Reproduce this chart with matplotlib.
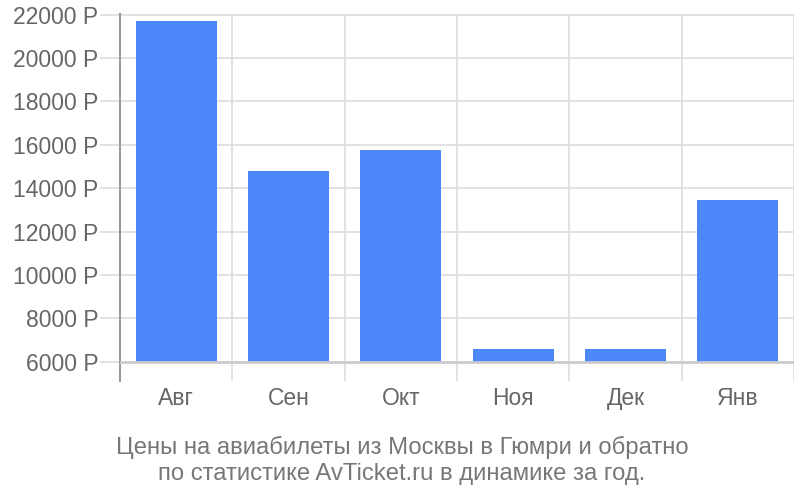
import numpy as np
import matplotlib.pyplot as plt
import matplotlib
matplotlib.rc('font', family='Liberation Sans')

# Data
months = ['Авг', 'Сен', 'Окт', 'Ноя', 'Дек', 'Янв']
prices = [21700, 14780, 15750, 6580, 6580, 13450]
yticks = [6000, 8000, 10000, 12000, 14000, 16000, 18000, 20000, 22000]
caption = 'Цены на авиабилеты из Москвы в Гюмри и обратно\nпо статистике AvTicket.ru в динамике за год.'

base = 6000
fig = plt.figure(figsize=(8, 5), dpi=100)
ax = fig.add_axes([120/800, 1 - 381/500, 674/800, 367/500])

x = np.arange(len(months))
ax.bar(x, np.array(prices) - base, bottom=base, width=0.72, color='#4d88fa', zorder=3)

ax.set_xlim(-0.5, len(months) - 0.5)
ax.set_ylim(5110, 22030)

# horizontal grid with ticks running left of the axis
ax.set_yticks(yticks)
ax.set_yticklabels(['%d Р' % v for v in yticks], fontsize=16.5, color='#666666')
ax.tick_params(axis='y', length=14.4, width=1.2, color='#dddddd', pad=1)
ax.grid(axis='y', color='#dddddd', linewidth=1.2, zorder=0)

# vertical grid at category boundaries
ax.set_xticks(x)
ax.set_xticklabels(months, fontsize=16.5, color='#666666')
ax.tick_params(axis='x', length=0, pad=4)
ax.set_xticks(np.arange(len(months) + 1) - 0.5, minor=True)
ax.tick_params(axis='x', which='minor', length=0)
ax.grid(axis='x', which='minor', color='#dddddd', linewidth=1.2, zorder=0)

# baseline
ax.axhline(base, color='#cccccc', linewidth=2, zorder=4)

for s in ['top', 'right', 'bottom']:
    ax.spines[s].set_visible(False)
ax.spines['left'].set_color('#999999')
ax.spines['left'].set_linewidth(1.5)

fig.text(402/800, 1 - 460/500, caption, ha='center', va='center', fontsize=17.2,
         color='#777777', linespacing=1.24)

plt.savefig('out.png', dpi=100)
